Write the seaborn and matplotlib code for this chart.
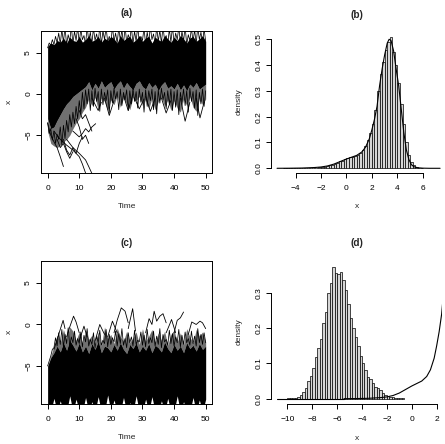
import matplotlib
matplotlib.use("Agg")
import matplotlib.pyplot as plt
import seaborn as sns
import numpy as np
import pandas as pd

sns.set_style("ticks")
plt.rcParams["font.family"] = ["Liberation Sans", "DejaVu Sans"]

# ---------------- data ----------------
T = list(range(51))
T_half = [i / 2 for i in range(101)]

# panel (a): envelope of the simulated paths
a_top = [5.8, 6.2, 6.0, 6.5, 6.3, 6.8, 6.2, 6.9, 6.5, 6.4,
         7.0, 6.3, 6.6, 7.1, 6.4, 6.6, 7.0, 6.3, 6.8, 6.5,
         7.0, 6.7, 6.2, 7.1, 6.5, 6.8, 7.0, 6.3, 6.6, 7.1,
         6.4, 6.8, 7.0, 6.2, 6.9, 6.6, 6.4, 7.1, 6.7, 6.3,
         6.9, 6.5, 7.1, 6.7, 6.2, 6.8, 7.0, 6.4, 6.7, 7.1, 6.4]
a_core_low = [-3.0, -4.2, -4.0, -3.2, -2.5, -1.8, -1.2, -0.8, -0.3, 0.0,
              0.3, 0.6, 0.9, 1.5, 0.5, 1.3, 0.7, 1.6, 0.8, 1.2,
              1.5, 0.6, 1.2, 1.6, 0.7, 1.4, 0.9, 0.5, 1.3, 1.6,
              0.9, 0.6, 1.4, 0.8, 1.2, 0.4, 1.1, 1.5, 0.7, 1.0,
              0.6, 1.3, 0.5, 1.1, 0.4, 1.2, 0.8, 1.4, 0.6, 0.9, 1.2]
a_fringe_low = [-4.5, -6.0, -6.3, -6.5, -6.2, -5.8, -5.5, -5.0, -4.2, -3.5,
                -3.0, -2.2, -1.6, -0.6, -1.4, -0.4, -1.9, -0.5, -0.9, -2.0,
                -0.7, -1.3, -0.2, -1.6, -0.5, -1.2, -1.9, -0.4, -0.8, -0.3,
                -1.4, -0.6, -1.8, -0.5, -1.9, -0.9, -0.4, -1.5, -0.7, -2.0,
                -0.8, -1.7, -2.2, -0.6, -1.4, -0.3, -1.6, -2.1, -0.5, -1.3, -0.6]
# zig-zag paths along the upper and lower edges of (a), half-step in time
a_top_zig = [5.6, 6.2, 5.9, 6.6, 6.0, 7.0, 6.2, 7.4, 6.1, 7.8,
             6.3, 8.1, 6.0, 7.2, 6.4, 8.2, 6.1, 7.6, 6.5, 8.1,
             6.2, 7.9, 6.6, 7.1, 6.0, 8.2, 6.4, 7.5, 6.1, 8.0,
             6.5, 7.3, 6.2, 8.2, 6.0, 7.7, 6.6, 8.1, 6.3, 7.0,
             6.1, 8.2, 6.4, 7.4, 6.2, 8.0, 6.5, 7.8, 6.0, 8.2,
             6.3, 7.2, 6.6, 8.1, 6.1, 7.6, 6.4, 8.2, 6.2, 7.0,
             6.5, 8.0, 6.0, 7.5, 6.3, 8.2, 6.6, 7.3, 6.1, 8.1,
             6.4, 7.7, 6.2, 8.2, 6.5, 7.1, 6.0, 7.9, 6.3, 8.2,
             6.1, 7.4, 6.6, 8.1, 6.2, 7.6, 6.4, 8.2, 6.0, 7.2,
             6.5, 8.0, 6.3, 7.8, 6.1, 8.2, 6.6, 7.5, 6.2, 7.9, 6.4]
a_low_zig = [-3.5, -4.8, -4.2, -5.6, -4.5, -6.0, -4.9, -5.5, -4.0, -6.2,
             -3.8, -5.4, -3.2, -4.6, -2.5, -4.0, -2.2, -3.6, -1.5, -3.0,
             -0.8, -2.4, 0.2, -1.8, 0.5, -1.2, 0.6, -2.0, 0.4, -1.5,
             0.7, -0.9, 0.3, -2.1, 0.6, -1.3, 0.2, -0.8, 0.5, -2.3,
             0.4, -1.1, 0.7, -0.6, 0.3, -1.9, 0.6, -1.4, 0.2, -0.7,
             0.5, -2.0, 0.4, -1.2, 0.7, -0.9, 0.3, -1.7, 0.6, -1.0,
             0.2, -2.2, 0.5, -1.5, 0.4, -0.8, 0.6, -1.9, 0.3, -2.4,
             0.5, -1.1, 0.7, -0.7, 0.2, -1.8, 0.4, -1.3, 0.6, -2.0,
             0.3, -1.6, 0.5, -2.5, 0.2, -1.0, 0.6, -1.4, 0.4, -2.2,
             0.7, -0.9, 0.3, -1.7, 0.5, -2.6, 0.2, -1.2, 0.6, -1.5, 0.4]
# individual outlying paths in (a)
a_out_t = [[0, 1, 2, 3, 4, 5],
           [2, 4, 6, 8, 10, 11, 12.2],
           [6, 8, 10, 12, 13, 14.2],
           [8, 10, 11, 12, 13, 14, 15.2],
           [5, 6, 7, 8, 9, 10, 11],
           [9, 10, 11, 12, 13],
           [3, 4, 5, 6, 7, 8],
           [10, 11, 12, 13, 14],
           [18, 19.5, 21], [24, 25.5, 27], [31, 32.5, 34], [36, 37.5, 39],
           [42, 43.5, 45], [47, 48.2, 49.5], [14, 16, 17], [27.5, 29, 30.5]]
a_out_x = [[-3.5, -5.0, -5.8, -6.5, -7.6, -8.8],
           [-4.5, -5.5, -6.2, -6.8, -7.6, -8.5, -9.8],
           [-5.5, -6.5, -7.2, -8.0, -8.8, -9.8],
           [-4.5, -5.2, -4.8, -4.2, -4.6, -4.0, -3.6],
           [-5.5, -6.8, -7.4, -6.5, -7.2, -6.0, -5.2],
           [-3.0, -4.0, -5.5, -5.0, -6.0],
           [-5.5, -6.5, -6.0, -7.0, -7.8, -7.0],
           [-2.0, -3.0, -2.5, -3.5, -4.5],
           [-0.5, -2.6, -0.8], [-0.2, -2.0, 0.0], [-0.3, -2.1, -0.5], [-0.5, -2.3, -0.8],
           [-0.5, -3.3, -1.0], [-0.5, -2.9, -1.0], [-0.5, -2.0, -1.0], [-0.5, -1.8, -0.6]]

# panel (c): envelope of the simulated paths
c_core_top = [-5.0, -4.0, -3.4, -2.6, -3.3, -2.2, -3.1, -1.9, -2.5, -3.2,
              -2.2, -3.3, -2.6, -3.5, -2.3, -3.0, -2.0, -3.4, -2.6, -2.8,
              -3.3, -2.4, -3.1, -2.2, -3.0, -3.5, -2.4, -2.9, -2.2, -3.3,
              -2.6, -3.1, -2.3, -3.4, -2.5, -2.8, -3.3, -2.1, -2.9, -3.4,
              -2.4, -3.1, -2.6, -3.4, -2.2, -2.9, -2.5, -3.2, -2.3, -3.0, -2.6]
c_fringe_top = [-5.0, -3.8, -2.6, -1.3, -2.2, -0.6, -1.8, -0.3, -0.8, -1.9,
                -0.9, -2.4, -0.7, -1.8, -1.3, -2.4, -0.9, -2.6, -0.3, -1.7,
                -1.2, -2.3, -0.4, -1.5, -2.0, -0.8, -2.2, -1.6, -0.9, -2.4,
                -0.5, -2.0, -1.4, -0.6, -2.2, -1.0, -1.9, -0.8, -2.5, -1.2,
                -0.7, -2.1, -1.0, -2.4, -0.5, -1.5, -2.2, -0.6, -1.4, -0.9, -2.1]
c_top_zig = [-5.0, -4.4, -3.8, -3.0, -2.8, -1.6, -2.6, -1.0, -2.4, -0.6,
             -2.7, -1.2, -2.3, -0.4, -2.6, -1.5, -2.2, -0.8, -2.5, -1.7,
             -2.3, -0.9, -2.7, -1.3, -2.1, -0.5, -2.6, -1.8, -2.4, -1.0,
             -2.8, -1.4, -2.2, -0.7, -2.5, -1.9, -2.3, -0.6, -2.7, -1.2,
             -2.4, -1.6, -2.1, -0.8, -2.6, -1.1, -2.3, -0.5, -2.5, -1.7,
             -2.8, -1.0, -2.2, -1.5, -2.6, -0.7, -2.4, -1.9, -2.1, -0.9,
             -2.5, -1.3, -2.7, -0.6, -2.3, -1.6, -2.2, -0.8, -2.6, -1.4,
             -2.4, -0.5, -2.8, -1.2, -2.1, -1.8, -2.5, -0.7, -2.3, -1.1,
             -2.6, -1.5, -2.2, -0.6, -2.7, -1.3, -2.4, -0.9, -2.2, -1.7,
             -2.5, -0.8, -2.3, -1.4, -2.6, -0.5, -2.2, -1.2, -2.4, -1.0, -2.2]
c_bottom = [-9.7, -10.5, -8.9, -10.5, -9.2, -10.5, -10.5, -8.6, -10.5, -9.0,
            -10.5, -10.5, -8.8, -10.5, -9.3, -10.5, -8.7, -10.5, -10.5, -8.5,
            -10.5, -9.1, -10.5, -10.5, -8.8, -10.5, -9.4, -10.5, -8.6, -10.5,
            -10.5, -9.0, -10.5, -8.7, -10.5, -10.5, -9.2, -10.5, -8.9, -10.5,
            -10.5, -8.6, -10.5, -9.3, -10.5, -10.5, -8.8, -10.5, -9.1, -10.5, -9.0]
c_out_t = [[2, 3.5, 4.9, 5.5], [6, 7, 8.2, 9, 10], [10, 11.5, 12.5], [15, 16.5, 18],
           [19, 20.5, 22], [21, 22, 23.3, 24.5, 25.5], [25.5, 26.9, 27.8],
           [31, 32.1, 33, 33.7, 34.5, 35.5, 36.5, 37.5], [37.5, 38.7, 39.2, 40.5],
           [40, 41, 42, 43], [44.5, 45.6, 47, 48.2, 49, 50]]
c_out_x = [[-3.0, -1.2, 0.5, -0.5], [-1.5, -0.3, 1.0, 0.3, -1.0], [-2.0, -0.2, -1.5],
           [-2.0, 0.0, -1.2], [-1.5, 0.4, -1.0], [-1.0, 0.5, 2.0, 1.6, 0.2],
           [-0.5, 1.9, -0.8], [-1.0, 0.7, 0.0, 1.6, 0.4, 1.0, 1.3, 0.2],
           [-1.0, 0.1, 0.6, -1.0], [-1.0, 0.5, 0.8, 1.5], [-1.2, 0.3, 0.0, 0.4, 0.2, -0.5]]

# panel (b): histogram (bin width 0.2 from -5 to 6) and density curve
b_edges_start, b_edges_stop, b_width = -5.0, 6.0, 0.2
b_heights = [0, 0, 0, 0, 0.0003, 0.0003, 0.0005, 0.0005, 0.001, 0.001,
             0.001, 0.0015, 0.002, 0.003, 0.004, 0.005, 0.006, 0.008, 0.011, 0.014,
             0.018, 0.022, 0.027, 0.030, 0.035,
             0.040, 0.043, 0.045, 0.048, 0.052,
             0.060, 0.070, 0.088, 0.11, 0.138,
             0.17, 0.226, 0.30, 0.365, 0.41,
             0.46, 0.49, 0.51, 0.45, 0.40,
             0.33, 0.25, 0.17, 0.10, 0.05,
             0.025, 0.012, 0.005, 0.002, 0.001]
b_dens_x = [-5.45, -4.5, -3.5, -3.0, -2.5, -2.0, -1.5, -1.0, -0.5, 0.0, 0.4, 0.8, 1.2, 1.5,
            1.8, 2.0, 2.2, 2.4, 2.6, 2.8, 3.0, 3.2, 3.35, 3.5, 3.7, 3.9, 4.1, 4.3, 4.5,
            4.7, 4.9, 5.1, 5.3, 5.6, 6.0, 6.5, 7.35]
b_dens_y = [0, 0.0003, 0.001, 0.002, 0.003, 0.005, 0.009, 0.016, 0.026, 0.036, 0.043, 0.05,
            0.063, 0.082, 0.115, 0.15, 0.19, 0.24, 0.32, 0.385, 0.44, 0.485, 0.5, 0.495,
            0.455, 0.385, 0.32, 0.23, 0.14, 0.072, 0.034, 0.014, 0.006, 0.002, 0.0005, 0, 0]

# panel (d): histogram (bin width 0.2 from -10 to -0.6)
d_edges_start, d_edges_stop, d_width = -10.0, -0.6, 0.2
d_heights = [0.0005, 0.001, 0.002, 0.003, 0.006, 0.011, 0.02, 0.03, 0.049, 0.063,
             0.086, 0.119, 0.143, 0.169, 0.214, 0.247, 0.299, 0.328, 0.375,
             0.358, 0.355, 0.359, 0.338, 0.31, 0.27, 0.23, 0.2, 0.175, 0.15,
             0.12, 0.1, 0.08, 0.062, 0.055, 0.045, 0.033, 0.031, 0.024, 0.015,
             0.01, 0.007, 0.005, 0.004, 0.003, 0.002, 0.002, 0.001]
d_flat_x = [-10.8, -5.45]
d_flat_y = [0, 0]

# ---------------- figure ----------------
W, H = 445, 444
fig = plt.figure(figsize=(W / 100, H / 100), dpi=100)


def box(l, t, r, b):
    return [l / W, 1 - b / H, (r - l) / W, (b - t) / H]


FS = 6.0
LW = 0.7


def style_ticks(ax):
    ax.tick_params(direction="out", length=3.6, width=LW, labelsize=FS,
                   colors="black")
    ax.tick_params(axis="x", pad=4.6)
    ax.tick_params(axis="y", labelrotation=90, pad=3.0)
    for lab in ax.get_yticklabels():
        lab.set_va("center")
    ax.set_xlabel("")
    ax.set_ylabel("")


def line(ax, x, y, lw=0.6):
    sns.lineplot(x=x, y=y, ax=ax, color="black", lw=lw, estimator=None, sort=False)


def paths_panel(ax, top, low, fringe, zigs, out_t, out_x, fringe_above=False):
    if not fringe_above:
        ax.fill_between(T, fringe, low, color="#707070", lw=0)
    else:
        ax.fill_between(T, top, fringe, color="#707070", lw=0)
    ax.fill_between(T, low, top, color="black", lw=0)
    for z in zigs:
        line(ax, T_half, z, lw=0.55)
    for tt, xx in zip(out_t, out_x):
        line(ax, tt, xx)
    ax.set_xlim(-2, 52)
    ax.set_ylim(-9.62, 7.65)
    ax.set_xticks([0, 10, 20, 30, 40, 50])
    ax.set_yticks([-5, 0, 5])
    ax.set_yticklabels(["\u22125", "0", "5"])
    for s in ax.spines.values():
        s.set_linewidth(LW)
        s.set_color("black")
        s.set_visible(True)
    style_ticks(ax)


axA = fig.add_axes(box(41.3, 31, 212, 173.3))
paths_panel(axA, a_top, a_core_low, a_fringe_low, [a_top_zig, a_low_zig], a_out_t, a_out_x)

axC = fig.add_axes(box(41.3, 261, 212, 404.3))
paths_panel(axC, c_core_top, c_bottom, c_fringe_top, [c_top_zig], c_out_t, c_out_x,
            fringe_above=True)


def hist_panel(ax, start, stop, width, heights, xlim, ylim, xticks, yticks, ytl):
    edges = [round(v, 3) for v in np.arange(start, stop + width / 2, width)]
    centers = [(edges[i] + edges[i + 1]) / 2 for i in range(len(edges) - 1)]
    df = pd.DataFrame({"x": centers, "w": heights})
    sns.histplot(data=df, x="x", weights="w", bins=edges, stat="count",
                 color="#d6d6d6", edgecolor="black", linewidth=0.5, alpha=1, ax=ax)
    ax.set_xlim(*xlim)
    ax.set_ylim(*ylim)
    ax.set_xticks(xticks)
    ax.set_xticklabels([str(v).replace("-", "\u2212") for v in xticks])
    ax.set_yticks(yticks)
    ax.set_yticklabels(ytl)
    sns.despine(ax=ax)
    ax.spines["left"].set_bounds(yticks[0], yticks[-1])
    ax.spines["bottom"].set_bounds(xticks[0], xticks[-1])
    for s in ("left", "bottom"):
        ax.spines[s].set_linewidth(LW)
        ax.spines[s].set_color("black")
    style_ticks(ax)


axB = fig.add_axes(box(271.3, 31, 442, 173.3))
hist_panel(axB, b_edges_start, b_edges_stop, b_width, b_heights,
           (-5.9, 7.5), (-0.0194, 0.532), [-4, -2, 0, 2, 4, 6],
           [0, 0.1, 0.2, 0.3, 0.4, 0.5], ["0.0", "0.1", "0.2", "0.3", "0.4", "0.5"])
line(axB, b_dens_x, b_dens_y, lw=0.8)
axB.set_xlabel(""); axB.set_ylabel("")

axD = fig.add_axes(box(271.3, 261, 442, 404.3))
hist_panel(axD, d_edges_start, d_edges_stop, d_width, d_heights,
           (-11.29, 2.43), (-0.016, 0.391), [-10, -8, -6, -4, -2, 0, 2],
           [0, 0.1, 0.2, 0.3], ["0.0", "0.1", "0.2", "0.3"])
line(axD, d_flat_x, d_flat_y, lw=0.8)
line(axD, b_dens_x, b_dens_y, lw=0.8)
axD.set_xlabel(""); axD.set_ylabel("")


def ftext(px, py, s, **kw):
    fig.text(px / W, 1 - py / H, s, ha="center", va="center", **kw)


ftext(126.7, 12.7, "(a)", fontsize=7.2, fontweight="bold")
ftext(356.7, 14.5, "(b)", fontsize=7.2, fontweight="bold")
ftext(126.7, 242.7, "(c)", fontsize=7.2, fontweight="bold")
ftext(356.7, 242.7, "(d)", fontsize=7.2, fontweight="bold")

ftext(126.7, 206.8, "Time", fontsize=FS)
ftext(126.7, 437.7, "Time", fontsize=FS)
ftext(356.7, 206.8, "x", fontsize=FS)
ftext(356.7, 438.0, "x", fontsize=FS)

ftext(9.3, 102, "x", fontsize=FS, rotation=90)
ftext(9.3, 332, "x", fontsize=FS, rotation=90)
ftext(238.7, 102, "density", fontsize=FS, rotation=90)
ftext(238.7, 332, "density", fontsize=FS, rotation=90)

fig.savefig("out.png", dpi=100)
